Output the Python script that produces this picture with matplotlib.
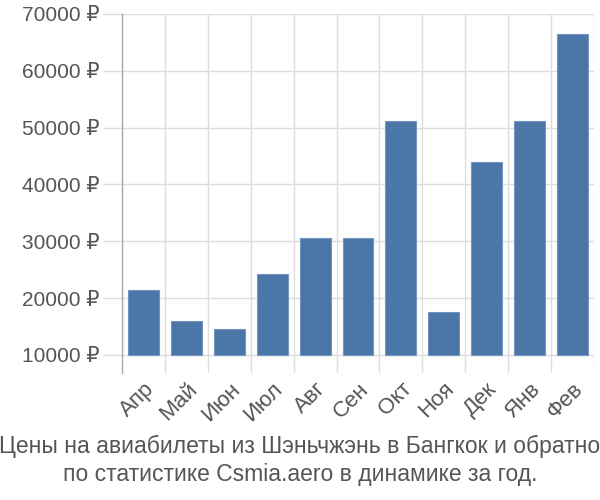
import matplotlib.pyplot as plt
import numpy as np

plt.rcParams['font.family'] = ['Liberation Sans', 'DejaVu Sans']

months = ['Апр', 'Май', 'Июн', 'Июл', 'Авг', 'Сен', 'Окт', 'Ноя', 'Дек', 'Янв', 'Фев']
prices = [21400, 15900, 14600, 24200, 30600, 30600, 51100, 17600, 43900, 51100, 66500]
yticks = [10000, 20000, 30000, 40000, 50000, 60000, 70000]
title = 'Цены на авиабилеты из Шэньчжэнь в Бангкок и обратно\nпо статистике Csmia.aero в динамике за год.'

fig = plt.figure(figsize=(6, 5), dpi=100)
ax = fig.add_axes([122 / 600, 1 - 373 / 500, 472 / 600, 359 / 500])

x = np.arange(len(months))
base = 10000
ax.bar(x, np.array(prices) - base, bottom=base, width=0.72,
       color='#4a76a8', edgecolor='#7396c0', linewidth=0.8, zorder=3)

ax.set_xlim(-0.5, len(months) - 0.5)
ax.set_ylim(6800, 70000)

ax.set_xticks(x)
ax.set_xticklabels(months, rotation=45, ha='right', rotation_mode='anchor',
                   fontsize=16, color='#555555')
ax.set_xticks(np.arange(-0.5, len(months)), minor=True)
ax.tick_params(axis='x', which='major', length=0, pad=4)
ax.tick_params(axis='x', which='minor', length=0)
ax.grid(axis='x', which='minor', color='#dddddd', linewidth=1, zorder=0)

ax.set_yticks(yticks)
ax.set_yticklabels([f'{v} ₽' for v in yticks], fontsize=15, color='#555555')
ax.tick_params(axis='y', length=14, color='#dddddd', width=1, pad=2)
ax.grid(axis='y', color='#dddddd', linewidth=1, zorder=0)

for s in ['top', 'right', 'bottom']:
    ax.spines[s].set_visible(False)
ax.spines['left'].set_color('#aaaaaa')
ax.spines['left'].set_linewidth(1)

fig.text(0.5, 0.079, title, ha='center', va='center', fontsize=16.5,
         color='#555555', linespacing=1.3)

fig.savefig('out.png', dpi=100)
